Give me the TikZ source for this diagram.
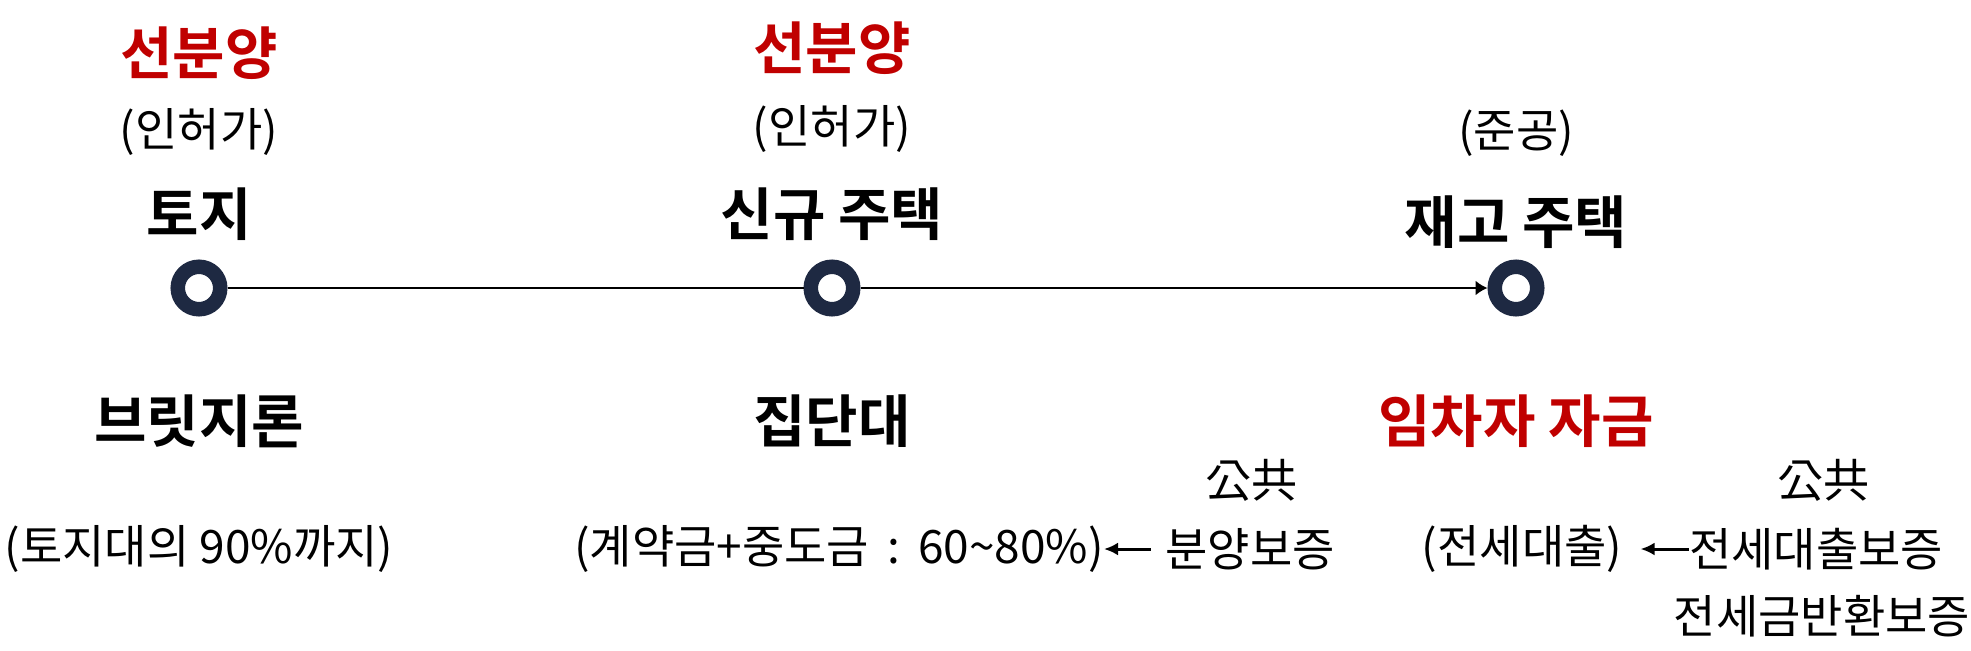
\documentclass[tikz,border=0pt]{standalone}
\usepackage{fontspec}
\setmainfont{Noto Sans CJK KR}[BoldFont={Noto Sans CJK KR Bold}]
\usetikzlibrary{arrows.meta}
\definecolor{presale}{RGB}{192,0,0}
\definecolor{ring}{RGB}{30,41,66}
\tikzset{
  stage/.style={circle,draw=ring,line width=7.25pt,fill=white,minimum size=21.25pt,inner sep=0pt},
  head/.style={font=\bfseries\fontsize{28.5}{32}\selectfont,inner sep=0pt},
  note/.style={font=\fontsize{23}{27}\selectfont,inner sep=0pt},
  pointer/.style={-{Latex[length=7pt,width=6.5pt]},line width=1.5pt},
}
\begin{document}
\begin{tikzpicture}[x=0.5pt,y=-0.5pt]
\useasboundingbox (0,0) rectangle (1971,650);
%stages
\node[stage] (land) at (199,288) {};
\node[stage] (newhouse) at (832,288) {};
\node[stage] (stock) at (1516,288) {};
%timeline
\draw[line width=1pt] (land) -- (newhouse);
\draw[line width=1pt,-{Latex[length=6pt,width=7.5pt]}] (newhouse) -- (stock);
%labels above
\node[head,text=presale] (presale1) at (199,53) {선분양};
\node[note] (permit1) at (199,132) {(인허가)};
\node[head] (landlbl) at (199,214) {토지};
\node[head,text=presale] (presale2) at (832,48) {선분양};
\node[note] (permit2) at (832,129) {(인허가)};
\node[head] (newlbl) at (832,214) {신규 주택};
\node[note] (done) at (1516,133) {(준공)};
\node[head] (stocklbl) at (1516,222) {재고 주택};
%labels below
\node[head] (bridge) at (199,421) {브릿지론};
\node[note] (bridgenote) at (199,549) {(토지대의 90\%까지)};
\node[head] (group) at (832,421) {집단대};
\node[note,anchor=east] (deposit) at (1104,549) {(계약금+중도금\ \,:\ \,60\textasciitilde80\%)};
\node[note] (guar1) at (1250,549) {분양보증};
\node[note] (public1) at (1251,480) {公共};
\node[head,text=presale] (tenant) at (1516,421) {임차자 자금};
\node[note] (jeonse) at (1522,549) {(전세대출)};
\node[note] (guar2) at (1816,549) {전세대출보증};
\node[note] (public2) at (1823,480) {公共};
\node[note] (guar3) at (1822,616) {전세금반환보증};
%guarantees
\draw[pointer,shorten <=7pt] (guar1.west) -- (guar1.west -| deposit.east);
\draw[pointer,shorten >=9pt] (guar2.west) -- (guar2.west -| jeonse.east);
\end{tikzpicture}
\end{document}
